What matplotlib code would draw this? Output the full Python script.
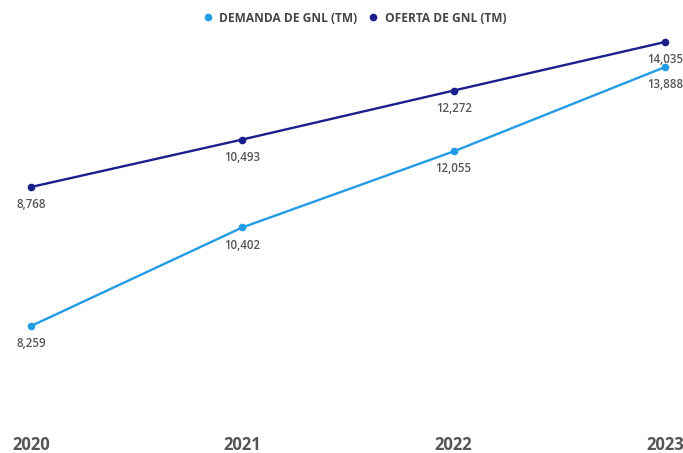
import matplotlib.pyplot as plt
from matplotlib.lines import Line2D

plt.rcParams['font.family'] = ['Open Sans', 'DejaVu Sans']

# Datos anuales de GNL (TM)
anios = [2020, 2021, 2022, 2023]
demanda = [8259, 10402, 12055, 13888]
oferta = [8768, 10493, 12272, 14035]

c_demanda = '#239ce6'
c_oferta = '#1b1f8c'
c_texto = '#555555'

fig = plt.figure(figsize=(6.83, 4.53), dpi=100)
ax = fig.add_axes([0, 43 / 453, 1, 390 / 453])
ax2 = ax.twinx()

# Cada serie con su propio eje y (ambos ocultos)
ax.plot(anios, demanda, color=c_demanda, lw=1.7, marker='o', ms=4.5, zorder=3)
ax2.plot(anios, oferta, color=c_oferta, lw=1.7, marker='o', ms=4.5, zorder=3)
ax.set_ylim(6433, 14911)
ax2.set_ylim(668, 14834)
ax.set_xlim(2019.853, 2023.085)

for eje, vals in [(ax, demanda), (ax2, oferta)]:
    for x, v in zip(anios, vals):
        eje.annotate(f'{v:,}', (x, v), xytext=(0, -8), textcoords='offset points',
                     ha='center', va='top', fontsize=8.3, color=c_texto,
                     fontweight='semibold')

for a in (ax, ax2):
    a.set_yticks([])
    for s in a.spines.values():
        s.set_visible(False)

ax.set_xticks(anios)
ax.set_xticklabels([str(a) for a in anios], fontsize=12, fontweight='bold',
                   color=c_texto)
ax.tick_params(axis='x', length=0, pad=19)

handles = [Line2D([], [], ls='', marker='o', ms=4.5, color=c_demanda),
           Line2D([], [], ls='', marker='o', ms=4.5, color=c_oferta)]
fig.legend(handles, ['DEMANDA DE GNL (TM)', 'OFERTA DE GNL (TM)'],
           loc='center', bbox_to_anchor=(0.514, 0.96), ncol=2, frameon=False,
           handletextpad=0.0, columnspacing=0.3,
           prop={'weight': 'bold', 'size': 8.6}, labelcolor='#444444')

fig.savefig('out.png', dpi=100)
